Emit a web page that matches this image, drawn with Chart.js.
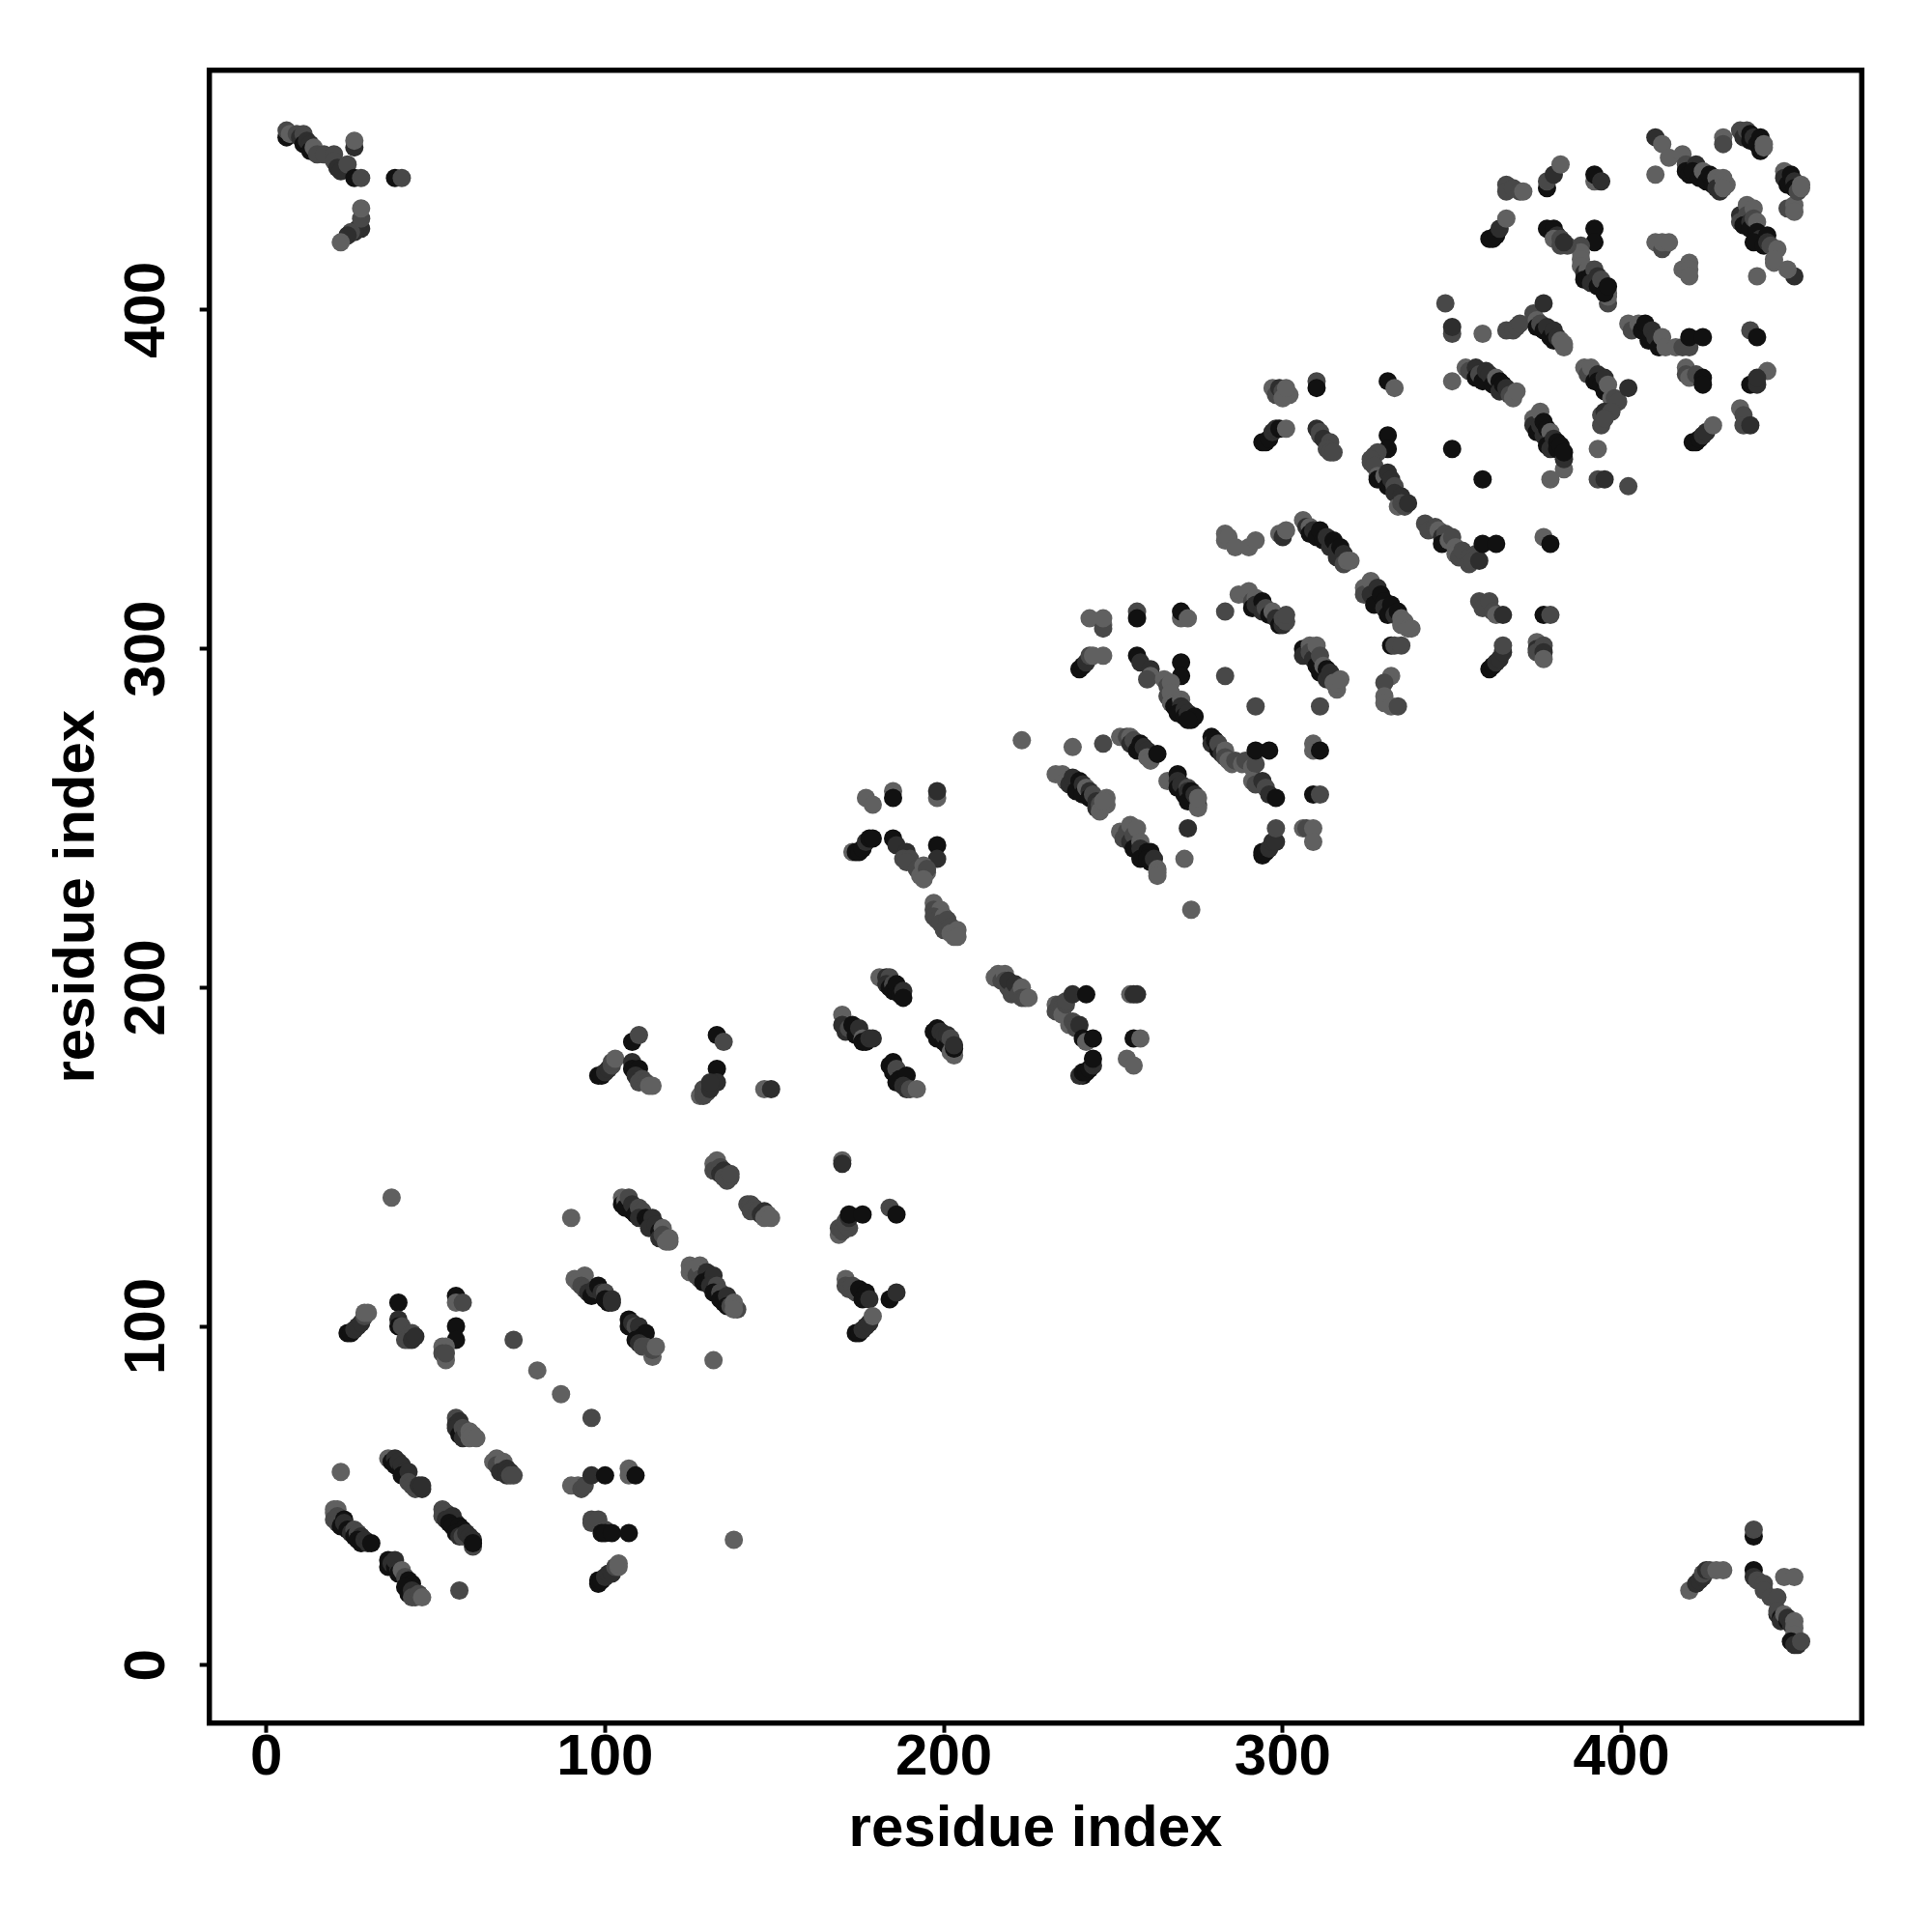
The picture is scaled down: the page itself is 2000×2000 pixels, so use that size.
<!DOCTYPE html>
<html>
  <head>
    <meta charset="UTF-8" />
    <title>Residue contact map</title>
    <script src="https://cdn.jsdelivr.net/npm/chart.js"></script>
    <style>
      body {
        margin: 0;
        background: #fff;
      }
      canvas {
        display: block;
      }
    </style>
  </head>
  <body>
    <canvas id="contactChart" width="2000" height="2000"></canvas>

    <script>
      const axisLabel = "residue index";
      const tickValues = [0, 100, 200, 300, 400];

      // every contact is [residue i, residue j, shade level 0-3], painted in this order
      const topLeftCorner = [[6,451,0],[6,453,2],[7,452,3],[9,452,2],[10,451,1],[11,452,2],[11,449,0],[12,450,1],[13,449,1],[13,447,0],[14,448,3],[15,446,2],[17,446,2],[20,446,2],[20,444,2],[21,442,1],[22,441,1],[24,443,2],[26,448,1],[26,450,3],[26,439,0],[28,439,2],[38,439,0],[40,439,2],[28,424,1],[27,424,1],[26,423,1],[25,423,2],[24,422,1],[22,420,3],[28,427,2],[28,430,3]];

      const bottomRightCorner = [[439,38,0],[439,40,2],[420,22,3],[422,24,1],[423,25,1],[424,26,1],[424,27,2],[425,28,1],[426,28,2],[428,28,3],[430,28,3],[439,28,0],[439,26,1],[440,25,2],[442,24,2],[442,22,2],[444,20,2],[446,20,2],[446,15,1],[446,16,2],[447,14,0],[447,13,1],[448,15,3],[449,13,0],[449,14,1],[450,12,1],[451,13,3],[451,11,3],[451,9,3],[450,7,0],[451,6,1],[452,6,1],[453,7,2],[448,26,3],[451,26,3]];

      const band0to60 = [[22,57,3],[20,46,3],[20,45,3],[21,46,3],[21,44,2],[20,43,2],[21,42,2],[22,41,0],[23,43,0],[23,42,1],[24,40,0],[25,39,1],[26,40,2],[26,38,0],[27,39,2],[28,38,1],[27,37,0],[28,36,0],[29,37,1],[30,36,1],[31,36,0],
        [36,29,0],[36,31,0],[37,30,1],[38,29,0],[38,31,1],[39,28,1],[39,27,0],[40,28,3],[41,26,2],[42,25,0],[43,24,0],[41,23,0],[42,21,0],[43,22,1],[44,21,1],[43,20,2],[44,20,2],[45,21,2],[46,20,3],[57,22,2],
        [52,46,2],[53,45,2],[52,44,2],[53,43,1],[55,44,1],[56,42,1],[54,42,0],[55,41,0],[57,41,0],[58,40,0],[56,39,0],[57,38,1],[58,38,2],[59,39,1],[60,38,1],[61,35,2],[61,37,1],[61,36,0],
        [36,61,3],[37,60,0],[38,61,1],[38,59,0],[39,60,1],[40,58,0],[40,59,1],[41,57,1],[40,56,0],[42,57,1],[42,54,2],[43,53,2],[44,52,2],[45,53,1],[46,52,1],[46,53,1],
        [67,60,3],[68,61,3],[68,59,2],[69,58,2],[70,60,3],[69,57,1],[71,58,1],[71,56,1],[72,57,1],[72,56,2],[73,56,2],
        [56,73,2],[56,71,1],[57,72,1],[56,70,1],[57,68,0],[58,70,2],[58,67,1],[59,69,2],[60,69,3],[60,67,3],[61,68,3],[62,67,3]];

      const band60to115 = [[90,53,3],[92,53,3],[93,52,2],[94,53,2],[96,56,1],[100,56,0],[107,58,3],[107,56,3],[109,56,0],
        [96,43,2],[96,42,2],[98,43,2],[100,40,2],[99,39,0],[100,39,0],[102,39,0],[107,39,0],
        [98,24,0],[98,25,0],[99,25,0],[100,26,1],[101,27,1],[102,27,1],[103,29,2],[104,29,3],[104,30,3],[138,37,3],
        [24,98,0],[25,98,0],[26,99,1],[27,100,1],[28,101,1],[29,103,2],[29,104,3],[30,104,3],[37,138,3],
        [39,107,0],[39,102,1],[39,100,0],[40,100,2],[43,98,2],[41,96,2],[42,96,2],[43,96,1],[44,97,1],
        [56,109,0],[56,107,3],[58,107,2],[56,100,0],[56,96,0],[52,94,3],[53,94,3],[52,92,2],[53,90,3],[53,92,2],
        [73,96,2],[80,87,3],[87,80,3],[96,73,2],[90,132,3],[132,90,3]];

      const band90to140 = [[91,114,3],[92,113,3],[94,115,3],[93,112,2],[94,111,2],[95,110,1],[96,109,0],[97,111,1],[98,112,0],[99,110,1],[100,110,2],[100,108,0],[101,107,0],[102,108,1],[102,107,1],
        [107,102,0],[107,100,0],[108,100,0],[108,101,1],[109,100,2],[110,100,1],[111,97,0],[112,98,0],[109,96,0],[110,95,1],[111,94,2],[112,94,2],[114,91,3],[114,93,2],[115,94,3],
        [105,138,3],[105,136,0],[106,137,3],[106,135,0],[107,138,2],[108,134,0],[108,136,1],[109,133,0],[110,135,2],[111,134,2],[110,132,1],[112,132,0],[113,131,0],[114,132,1],[113,129,1],[115,130,1],[116,128,0],[117,129,3],[116,126,1],[117,127,2],[118,125,3],[119,125,3],[119,126,3],
        [125,118,3],[125,116,3],[126,117,3],[127,115,2],[128,118,3],[128,114,2],[130,116,1],[129,113,0],[131,114,0],[132,115,1],[131,112,1],[133,112,2],[132,110,0],[134,110,2],[134,108,0],[135,107,0],[136,109,1],[136,106,0],[137,106,2],[139,105,2],[138,107,3],[138,105,3],
        [133,149,3],[132,148,3],[132,146,2],[134,147,2],[134,145,1],[135,146,1],[135,144,2],[136,143,2],[137,144,2],[137,145,2],
        [142,136,2],[143,136,2],[144,135,2],[143,134,2],[145,134,2],[146,133,1],[147,134,1],[147,132,3],[148,133,3],[149,132,3]];

      const band100to190 = [[169,127,3],[169,129,2],[170,128,2],[171,130,2],[172,129,2],[171,131,2],[172,132,1],[172,133,0],[176,133,0],[184,135,2],[186,133,0],
        [171,114,3],[171,112,2],[172,111,2],[173,112,2],[174,110,2],[175,111,0],[177,110,0],[176,108,0],[178,108,1],[184,108,0],[186,110,1],[174,98,0],[175,98,0],[176,99,1],[177,100,1],[178,101,1],[179,103,3],
        [108,184,0],[110,186,2],[98,174,0],[99,174,0],[100,175,1],[101,176,1],[102,177,2],[102,178,2],[103,179,3],
        [108,178,1],[108,176,0],[110,176,0],[109,174,1],[111,173,2],[110,172,2],[112,172,2],[113,171,3],[114,171,3],
        [133,186,0],[135,184,2],[133,176,0],[133,172,1],[128,168,3],[129,168,2],[129,170,2],[130,169,2],[131,170,1],[131,172,1],[147,170,3],[149,170,1],
        [170,149,3],[170,148,1],[170,192,3],[170,189,1],[171,187,1],[172,188,2],[173,189,0],[174,186,0],[175,188,1],[176,185,3],[176,184,0],[177,184,0],[178,185,1],[179,185,1],
        [185,178,0],[184,177,0],[185,175,0],[186,176,2],[187,173,0],[186,172,0],[189,174,0],[188,171,1],[189,170,1],[190,170,2],[192,170,3]];

      const band170to260 = [[177,256,3],[179,254,3],[185,258,3],[185,256,0],[198,256,3],[198,258,1],[173,240,3],[174,240,0],[175,240,0],[176,241,0],[177,243,1],[178,244,0],[179,244,0],
        [185,244,0],[186,242,1],[189,240,1],[188,238,2],[190,238,2],[189,237,2],[198,242,0],[198,238,1],[192,235,2],[194,236,3],[193,233,3],[195,234,3],[195,235,2],[194,232,3],
        [197,225,3],[197,223,2],[199,223,3],[197,221,2],[198,220,2],[200,221,3],[199,219,2],[201,220,2],[200,217,2],[202,218,2],[202,216,3],[204,217,3],[203,215,3],[204,215,3],
        [181,203,3],[183,203,1],[184,203,2],[183,201,1],[184,200,0],[185,201,2],[185,199,0],[186,199,0],[186,201,0],[187,198,0],[188,199,1],[188,197,0],
        [197,187,0],[198,185,0],[198,188,0],[199,187,1],[200,184,0],[200,186,1],[201,183,0],[201,186,1],[202,185,2],[203,180,3],[202,181,3],[203,182,0],[203,183,1],
        [215,203,3],[216,204,3],[217,202,2],[218,204,3],[218,202,2],[219,200,2],[219,202,1],[220,198,2],[221,201,1],[222,198,2],[223,200,3],[223,197,2],[224,197,2],[225,197,3],
        [233,195,3],[233,193,2],[234,195,2],[235,194,2],[235,192,3],[236,195,2],[236,196,2],[238,198,1],[242,198,0],[237,189,3],[238,190,2],[239,188,2],[240,189,1],[241,185,0],[242,184,3],[244,185,0],[241,174,0],[240,174,1],[241,175,0],[242,175,0],[243,176,0],[244,177,1],[244,179,0],[254,179,3],[256,177,3],[255,198,3],[256,198,1],[257,198,1],[256,185,0],[258,185,3]];

      const band230to300 = [[233,263,3],[235,263,3],[236,261,3],[237,260,1],[238,262,1],[239,258,0],[240,261,0],[241,260,1],[241,257,0],[242,259,3],[243,258,1],[243,256,0],[244,257,2],[245,255,1],[245,253,1],[246,254,2],[246,252,3],[248,256,3],[248,254,3],[247,255,3],
        [252,246,3],[253,244,2],[254,246,2],[255,248,3],[255,243,1],[256,245,2],[257,247,3],[256,241,0],[258,243,3],[258,241,1],[258,238,0],[260,240,0],[261,240,0],[260,238,0],[261,237,0],[262,238,1],[263,235,3],[263,234,3],[263,233,3],
        [272,247,1],[271,238,3],[273,223,3],[223,273,3],[238,271,3],[247,272,2],
        [243,309,3],[247,307,3],[247,306,2],[247,309,3],[257,311,2],[257,309,0],[270,309,3],[270,311,0],[272,309,3],[283,311,2],
        [240,294,0],[241,295,0],[242,296,1],[243,298,2],[244,298,3],[247,298,3],[257,298,0],[258,296,1],[261,294,1],[261,292,3],[260,291,2],[270,296,0],[270,292,0],
        [265,291,3],[266,289,2],[267,290,3],[266,286,2],[267,287,3],[267,284,3],[268,283,0],[270,285,3],[270,283,1],[269,281,0],[271,282,1],[271,280,0],[272,281,1],[273,279,0],[274,280,0],[272,279,0],
        [283,292,2],[292,283,2],[311,283,2],
        [252,274,3],[254,274,2],[255,274,3],[255,272,1],[256,273,2],[257,270,0],[258,272,0],[259,271,1],[260,270,1],[260,268,3],[261,267,3],[263,269,0],
        [279,274,0],[279,272,1],[280,273,0],[281,270,0],[281,272,2],[282,269,1],[283,270,3],[283,268,2],[284,267,3],[285,266,3],[286,267,2],[288,266,3],[289,267,2],[291,265,3],[292,266,2],[292,270,0],[296,270,0],[309,272,3],[309,270,3],[311,270,0],
        [291,261,3],[292,260,2],[294,261,1],[295,259,2],[296,257,1],[298,256,0],[309,257,0],[311,257,2],
        [266,261,3],[269,263,0],[269,261,1],[269,259,0],[270,260,1],[271,257,0],[272,259,2],[272,258,1],[272,255,0],[273,258,0],[274,257,1],[275,254,1],[275,253,3],[275,256,3],
        [294,239,0],[294,240,0],[295,240,0],[296,241,1],[297,243,1],[298,243,1],[298,247,2],[306,247,3],[307,247,2],[309,247,3],[309,243,3]];

      const band285to340 = [[287,316,3],[289,316,3],[290,317,3],[291,314,2],[292,315,3],[291,312,0],[292,313,1],[294,314,0],[294,311,1],[295,312,2],[296,310,0],[297,311,3],[298,309,1],[299,307,0],[300,307,1],[300,309,2],[301,308,2],[301,310,2],
        [306,300,0],[306,298,1],[308,301,3],[308,299,2],[309,297,1],[310,301,3],[310,295,0],[311,298,2],[311,293,0],[312,295,3],[313,294,0],[313,291,1],[314,293,1],[315,290,3],[316,288,3],[316,290,3],[317,291,3],
        [297,377,3],[298,375,2],[299,377,1],[300,376,2],[301,375,3],[302,375,3],[300,374,3],[301,377,3],[310,379,2],[310,377,0],[331,379,0],[333,377,3],[350,379,3],
        [294,361,0],[295,361,0],[296,362,0],[297,364,1],[298,365,1],[299,365,0],[301,365,3],[310,365,1],[311,364,2],[311,363,2],[312,362,1],[314,361,2],[313,359,2],[314,358,2],[315,358,2],
        [331,363,0],[331,359,0],[327,357,2],[326,355,2],[328,358,2],[326,356,2],[327,354,2],[328,351,3],[328,350,0],[330,351,3],[331,352,1],[331,348,0],[332,350,1],[333,348,2],[333,346,1],[334,342,3],[335,345,1],[335,343,2],[336,342,2],[337,343,1],
        [324,318,3],[324,316,2],[326,320,3],[326,316,1],[328,318,1],[327,313,0],[329,316,0],[330,314,0],[330,312,1],[331,310,0],[332,313,0],[333,310,1],[334,311,0],[335,309,3],[335,307,3],[336,308,3],[337,306,3],[338,306,3],[332,301,0],[333,301,2],[335,301,2],
        [332,292,3],[330,290,2],[330,286,3],[330,284,3],[332,283,3],[334,283,2],
        [283,334,3],[283,332,3],[284,333,3],[286,330,3],[290,330,3],[292,332,3],[299,334,3],[300,333,1],[301,335,3],
        [306,338,3],[307,336,1],[308,336,3],[308,334,0],[309,335,1],[310,333,0],[311,335,0],[312,332,0],[313,333,1],[314,330,1],[315,332,0],[316,329,1],[316,327,1],[317,330,0],[318,328,1],[318,325,2],[319,326,3],[320,326,3]];

      const band340to385 = [[342,337,2],[343,335,2],[345,336,2],[346,335,3],[347,333,1],[348,334,2],[347,331,0],[349,332,3],[350,333,2],[351,330,3],[351,328,3],[352,327,2],[353,329,2],[355,327,2],[357,328,2],[355,325,2],[356,326,2],[358,326,1],[359,331,0],[363,331,0],[377,333,3],[379,331,0],
        [358,314,2],[359,312,2],[361,314,2],[362,311,2],[363,310,3],[365,310,1],[377,310,0],[379,310,2],
        [361,294,0],[362,295,0],[363,296,1],[364,297,1],[365,299,1],[365,301,2],[375,302,3],[375,300,1],[375,299,2],[377,301,2],[377,299,1],[377,297,3],
        [350,359,0],[359,350,0],[379,350,3],[393,359,3],[393,350,2],[395,350,1],[402,348,2],
        [354,383,3],[355,382,2],[357,383,1],[357,380,0],[358,381,2],[359,379,0],[360,382,1],[361,381,1],[362,378,0],[363,380,3],[364,379,0],[364,376,1],[365,378,0],[366,377,1],[367,375,2],[368,374,3],[369,376,3],
        [374,368,3],[374,366,1],[376,370,3],[375,364,0],[376,366,1],[377,367,0],[377,363,1],[378,365,0],[379,364,3],[378,360,0],[380,362,1],[379,359,1],[381,361,0],[381,359,0],[383,353,3],[383,356,1],[382,360,0],[383,358,0],
        [348,402,2],[350,393,2],[350,395,1],[359,393,3],[366,394,2],[368,394,2],[369,395,2],[370,396,2],[374,399,2],[377,402,1],
        [375,397,3],[375,395,0],[376,396,2],[377,394,0],[378,395,1],[379,392,0],[380,394,1],[380,391,0],[381,392,1],[383,389,3],[382,391,3],[383,390,3]];

      const band385to455 = [[402,396,3],[403,394,2],[405,396,3],[406,394,0],[407,396,0],[408,391,0],[409,394,1],[410,392,1],[411,389,0],[412,392,3],[413,389,3],[416,389,3],[418,389,2],[420,389,2],[420,392,0],[424,392,0],[438,394,2],[440,392,0],
        [389,383,3],[390,381,2],[391,383,3],[392,379,0],[393,381,1],[393,379,0],[394,378,0],[395,380,1],[395,376,0],[396,378,3],[397,374,3],[398,374,2],[399,373,2],[402,377,1],[394,366,2],[394,369,2],[395,370,1],[397,370,2],[395,368,2],
        [419,383,3],[419,381,2],[420,380,3],[422,381,2],[424,380,0],[424,378,0],[443,382,3],[438,378,0],[440,378,1],[440,380,1],[435,371,3],[436,369,2],[436,366,2],[438,366,1],
        [421,361,0],[422,361,0],[423,362,0],[424,363,1],[425,364,1],[427,366,3],
        [440,410,3],[451,410,1],[449,412,3],[445,414,3],
        [435,428,1],[435,426,2],[437,431,3],[437,428,2],[436,425,0],[438,426,1],[439,430,3],[438,424,0],[439,427,2],[440,426,3],[440,423,0],[441,421,1],[439,420,0],[442,419,0],[443,422,0],[443,420,1],[444,419,2],[446,418,3],[445,415,3],
        [449,430,2],[451,431,3],[451,429,3],[448,441,3],[448,439,1],[449,437,0],[450,440,0],[451,438,1],[451,436,0],[452,435,2],[453,437,3],[453,436,3],
        [430,451,3],[430,449,2],[435,453,2],[436,451,1],[437,453,2],[438,452,0],[438,450,0],[439,451,1],[440,449,0],[441,451,0],[441,447,0],[442,448,3],[442,449,3],
        [410,451,1],[412,449,3],[410,440,3],[414,445,3],[418,446,3],[419,443,2],[419,441,0],[420,440,0],[422,443,1],[421,441,0],[423,439,0],[424,441,3],[425,438,0],[426,440,0],[427,437,0],[428,439,3],[428,436,1],[429,435,1],[430,439,3],[431,437,3],[430,436,3],
        [410,420,3],[412,418,2],[412,420,3],[414,420,3],[418,412,3],[420,414,3],[420,412,3],[420,410,3],[392,424,0],[392,420,0],
        [388,419,2],[388,417,3],[388,415,3],[388,413,3],[389,411,1],[390,412,3],[389,409,0],[391,410,0],[392,412,2],[391,408,1],[393,410,1],[393,407,0],[394,409,2],[396,402,2],[396,404,3],[396,405,3],[395,405,0],[396,407,0],
        [392,438,3],[392,440,0],[394,438,1],[378,424,0],[380,424,0],[381,422,1],[380,421,3],[382,421,2],[382,419,2],[384,419,2],[383,420,1],
        [361,421,0],[362,421,0],[363,422,0],[364,424,1],[366,427,3],[366,437,2],[366,435,2],[368,436,2],[370,435,2],[371,435,3],[378,436,0],[378,438,2],[380,440,1],[382,443,3]];

      const shadeColors = ["#111111", "#2e2e2e", "#484848", "#606060"];

      const contacts = [
        ...topLeftCorner,
        ...bottomRightCorner,
        ...band0to60,
        ...band60to115,
        ...band90to140,
        ...band100to190,
        ...band170to260,
        ...band230to300,
        ...band285to340,
        ...band340to385,
        ...band385to455,
      ];

      const axisFont = { family: "'Liberation Sans', sans-serif", size: 60, weight: "bold" };

      // the box round the plot, R style
      const plotBox = {
        id: "plotBox",
        afterDatasetsDraw(chart) {
          const { ctx, chartArea } = chart;
          ctx.save();
          ctx.lineWidth = 5.5;
          ctx.strokeStyle = "#000";
          ctx.strokeRect(chartArea.left, chartArea.top, chartArea.width, chartArea.height);
          ctx.restore();
        },
      };

      new Chart(document.getElementById("contactChart"), {
        type: "scatter",
        data: {
          datasets: [
            {
              label: "contacts",
              data: contacts.map((c) => ({ x: c[0], y: c[1] })),
              backgroundColor: contacts.map((c) => shadeColors[c[2]]),
              pointRadius: 9.5,
              borderWidth: 0,
            },
          ],
        },
        plugins: [plotBox],
        options: {
          responsive: false,
          animation: false,
          events: [],
          layout: { padding: { top: 72.7, right: 72.7, left: 0, bottom: 0 } },
          plugins: {
            legend: { display: false },
            tooltip: { enabled: false },
          },
          scales: {
            x: {
              type: "linear",
              min: -16.8,
              max: 470.9,
              afterBuildTicks: (scale) => {
                scale.ticks = tickValues.map((v) => ({ value: v }));
              },
              afterFit: (scale) => {
                scale.height = 216.3;
              },
              border: { display: false },
              grid: { drawOnChartArea: false, tickLength: 10, tickWidth: 4, color: "#000" },
              ticks: { color: "#000", font: axisFont, padding: -9, maxRotation: 0, autoSkip: false },
              title: {
                display: true,
                text: axisLabel,
                color: "#000",
                font: axisFont,
                padding: { top: 0, bottom: 70 },
              },
            },
            y: {
              type: "linear",
              min: -17.1,
              max: 470.8,
              afterBuildTicks: (scale) => {
                scale.ticks = tickValues.map((v) => ({ value: v }));
              },
              afterFit: (scale) => {
                scale.width = 216.7;
              },
              border: { display: false },
              grid: { drawOnChartArea: false, tickLength: 10, tickWidth: 4, color: "#000" },
              ticks: {
                color: "#000",
                font: axisFont,
                padding: 3,
                minRotation: 90,
                maxRotation: 90,
                crossAlign: "center",
                autoSkip: false,
              },
              title: {
                display: true,
                text: axisLabel,
                color: "#000",
                font: axisFont,
                padding: { top: 44, bottom: 0 },
              },
            },
          },
        },
      });
    </script>
  </body>
</html>
